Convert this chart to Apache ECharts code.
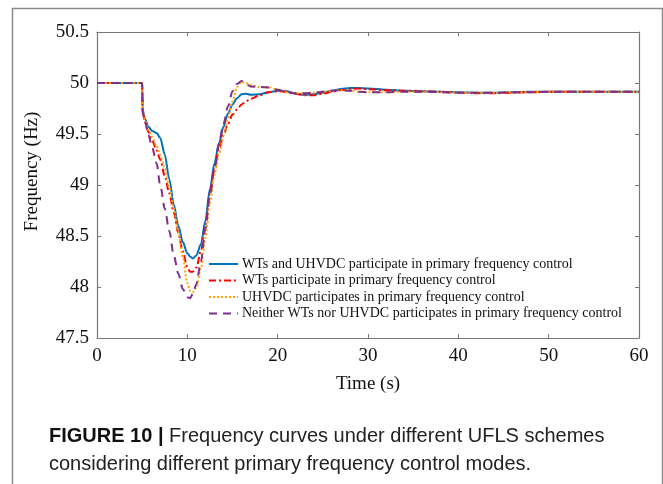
<!DOCTYPE html>
<html>
<head>
<meta charset="utf-8">
<script src="https://cdn.jsdelivr.net/npm/echarts@6/dist/echarts.min.js"></script>
<style>
  html, body { margin: 0; padding: 0; background: #fff; }
  #chart { width: 663px; height: 484px; }
</style>
</head>
<body>
<div id="chart"></div>
<script>
// time (s)
var timeS = [0, 5, 5.05, 5.3, 5.7, 6.1, 6.6, 7, 7.5, 8, 8.5, 9, 9.5, 10, 10.3, 10.6, 11, 11.5, 12, 12.5, 13, 13.5, 14, 14.5, 15, 15.5, 16, 16.5, 17, 18, 19, 20,
  21, 22, 23, 24, 25, 26, 27, 28, 29, 30, 32, 34, 36, 38, 40, 42, 44, 46, 48, 50, 52, 54, 56, 58, 60]

// frequency (Hz)
var wtsUhvdc = [50, 50, 49.74, 49.65, 49.57, 49.53, 49.51, 49.46, 49.30, 49.06, 48.81, 48.60, 48.44, 48.33, 48.30, 48.28, 48.31, 48.42, 48.65, 48.96, 49.21, 49.41, 49.57, 49.70, 49.79, 49.85, 49.89, 49.895, 49.885, 49.89, 49.91, 49.925,
  49.92, 49.895, 49.885, 49.89, 49.905, 49.925, 49.94, 49.95, 49.95, 49.945, 49.935, 49.925, 49.92, 49.915, 49.91, 49.905, 49.905, 49.91, 49.915, 49.915, 49.915, 49.915, 49.915, 49.915, 49.915]
var wtsOnly = [50, 50, 49.72, 49.62, 49.52, 49.44, 49.34, 49.25, 49.09, 48.92, 48.73, 48.53, 48.35, 48.19, 48.15, 48.15, 48.19, 48.35, 48.61, 48.92, 49.16, 49.35, 49.49, 49.60, 49.69, 49.74, 49.79, 49.82, 49.845, 49.88, 49.91, 49.92,
  49.915, 49.895, 49.88, 49.88, 49.895, 49.915, 49.93, 49.94, 49.945, 49.94, 49.93, 49.925, 49.92, 49.915, 49.905, 49.9, 49.9, 49.905, 49.91, 49.915, 49.915, 49.915, 49.915, 49.915, 49.915]
var uhvdcOnly = [50, 50, 49.72, 49.63, 49.54, 49.47, 49.38, 49.30, 49.16, 48.98, 48.77, 48.54, 48.29, 48.04, 47.96, 47.95, 47.99, 48.18, 48.48, 48.82, 49.10, 49.30, 49.48, 49.65, 49.82, 49.96, 50.01, 50.0, 49.98, 49.96, 49.96, 49.935,
  49.91, 49.9, 49.9, 49.905, 49.915, 49.925, 49.93, 49.925, 49.915, 49.91, 49.91, 49.915, 49.915, 49.91, 49.905, 49.905, 49.905, 49.91, 49.91, 49.915, 49.915, 49.915, 49.915, 49.915, 49.915]
var neither = [50, 50, 49.70, 49.62, 49.49, 49.37, 49.21, 49.00, 48.77, 48.55, 48.31, 48.13, 47.98, 47.90, 47.89, 47.93, 48.03, 48.25, 48.57, 48.90, 49.16, 49.40, 49.60, 49.77, 49.92, 49.99, 50.02, 49.99, 49.965, 49.96, 49.955, 49.935,
  49.91, 49.9, 49.9, 49.905, 49.915, 49.925, 49.93, 49.925, 49.915, 49.91, 49.91, 49.915, 49.915, 49.91, 49.905, 49.905, 49.905, 49.91, 49.91, 49.915, 49.915, 49.915, 49.915, 49.915, 49.915]

var names = [
  'WTs and UHVDC participate in primary frequency control',
  'WTs participate in primary frequency control',
  'UHVDC participates in primary frequency control',
  'Neither WTs nor UHVDC participates in primary frequency control'
]
var xTicks = [0, 10, 20, 30, 40, 50, 60]
var yTicks = [47.5, 48, 48.5, 49, 49.5, 50, 50.5]

function pairs(vals) {
  return timeS.map(function (t, i) { return [t, vals[i]] })
}

var serif = 'Liberation Serif'
var axisGray = '#777'

var chart = echarts.init(document.getElementById('chart'))

function mkSeries(name, vals, color, type, width) {
  return {
    name: name,
    type: 'line',
    data: pairs(vals),
    showSymbol: false,
    symbol: 'none',
    smooth: 0.3,
    smoothMonotone: 'x',
    lineStyle: { color: color, width: width, type: type },
    itemStyle: { color: color },
    z: 3
  }
}

var option = {
  backgroundColor: '#fff',
  animation: false,
  title: {
    left: 44,
    top: 417,
    text: '{b|FIGURE 10 |} Frequency curves under different UFLS schemes\nconsidering different primary frequency control modes.',
    textStyle: {
      fontFamily: 'Liberation Sans',
      fontSize: 20,
      fontWeight: 'normal',
      color: '#222',
      lineHeight: 28,
      rich: {
        b: { fontFamily: 'Liberation Sans', fontSize: 20, fontWeight: 'bold', color: '#111', lineHeight: 28 }
      }
    }
  },
  graphic: [{
    type: 'polyline',
    shape: { points: [[12.5, 490], [12.5, 8.5], [662.5, 8.5], [662.5, 490]] },
    style: { stroke: '#8a8a8a', lineWidth: 1.5, fill: null },
    silent: true
  }],
  legend: {
    orient: 'vertical',
    left: 208,
    top: 257,
    padding: 0,
    itemGap: 2.5,
    itemWidth: 29,
    itemHeight: 14,
    itemStyle: { opacity: 0 },
    data: names,
    textStyle: { fontFamily: serif, fontSize: 14, color: '#111', padding: [0, 0, 0, -1] }
  },
  grid: { left: 97, right: 24, top: 32, bottom: 146, containLabel: false },
  xAxis: [{
    type: 'value',
    min: 0, max: 60, interval: 10,
    name: 'Time (s)',
    nameLocation: 'middle',
    nameGap: 37,
    nameTextStyle: { fontFamily: serif, fontSize: 19, color: '#111' },
    axisLine: { show: true, onZero: false, lineStyle: { color: axisGray, width: 1.2 } },
    axisTick: { show: true, inside: true, length: 4, lineStyle: { color: axisGray } },
    axisLabel: { fontFamily: serif, fontSize: 19, color: '#111', margin: 9,
      formatter: function (v) { return xTicks.indexOf(v) >= 0 ? String(v) : '' } },
    splitLine: { show: false }
  }, {
    type: 'value',
    position: 'top',
    min: 0, max: 60, interval: 10,
    axisLine: { show: true, onZero: false, lineStyle: { color: axisGray, width: 1.2 } },
    axisTick: { show: true, inside: true, length: 4, lineStyle: { color: axisGray } },
    axisLabel: { show: false },
    splitLine: { show: false }
  }],
  yAxis: [{
    type: 'value',
    min: 47.5, max: 50.5, interval: 0.5,
    name: 'Frequency (Hz)',
    nameLocation: 'middle',
    nameGap: 55,
    nameTextStyle: { fontFamily: serif, fontSize: 19, color: '#111', padding: [0, 0, 0, 27] },
    axisLine: { show: true, onZero: false, lineStyle: { color: axisGray, width: 1.2 } },
    axisTick: { show: true, inside: true, length: 4, lineStyle: { color: axisGray } },
    axisLabel: { fontFamily: serif, fontSize: 19, color: '#111', margin: 8,
      formatter: function (v) { return yTicks.indexOf(v) >= 0 ? String(v) : '' } },
    splitLine: { show: false }
  }, {
    type: 'value',
    position: 'right',
    min: 47.5, max: 50.5, interval: 0.5,
    axisLine: { show: true, onZero: false, lineStyle: { color: axisGray, width: 1.2 } },
    axisTick: { show: true, inside: true, length: 4, lineStyle: { color: axisGray } },
    axisLabel: { show: false },
    splitLine: { show: false }
  }],
  series: [
    mkSeries(names[0], wtsUhvdc, '#0072BD', 'solid', 2),
    mkSeries(names[1], wtsOnly, '#FF0000', [7, 3, 2, 3], 2),
    mkSeries(names[2], uhvdcOnly, '#FFA500', [2, 2], 2),
    mkSeries(names[3], neither, '#7E2F8E', [8, 6], 2)
  ]
}
chart.setOption(option)
</script>
</body>
</html>
